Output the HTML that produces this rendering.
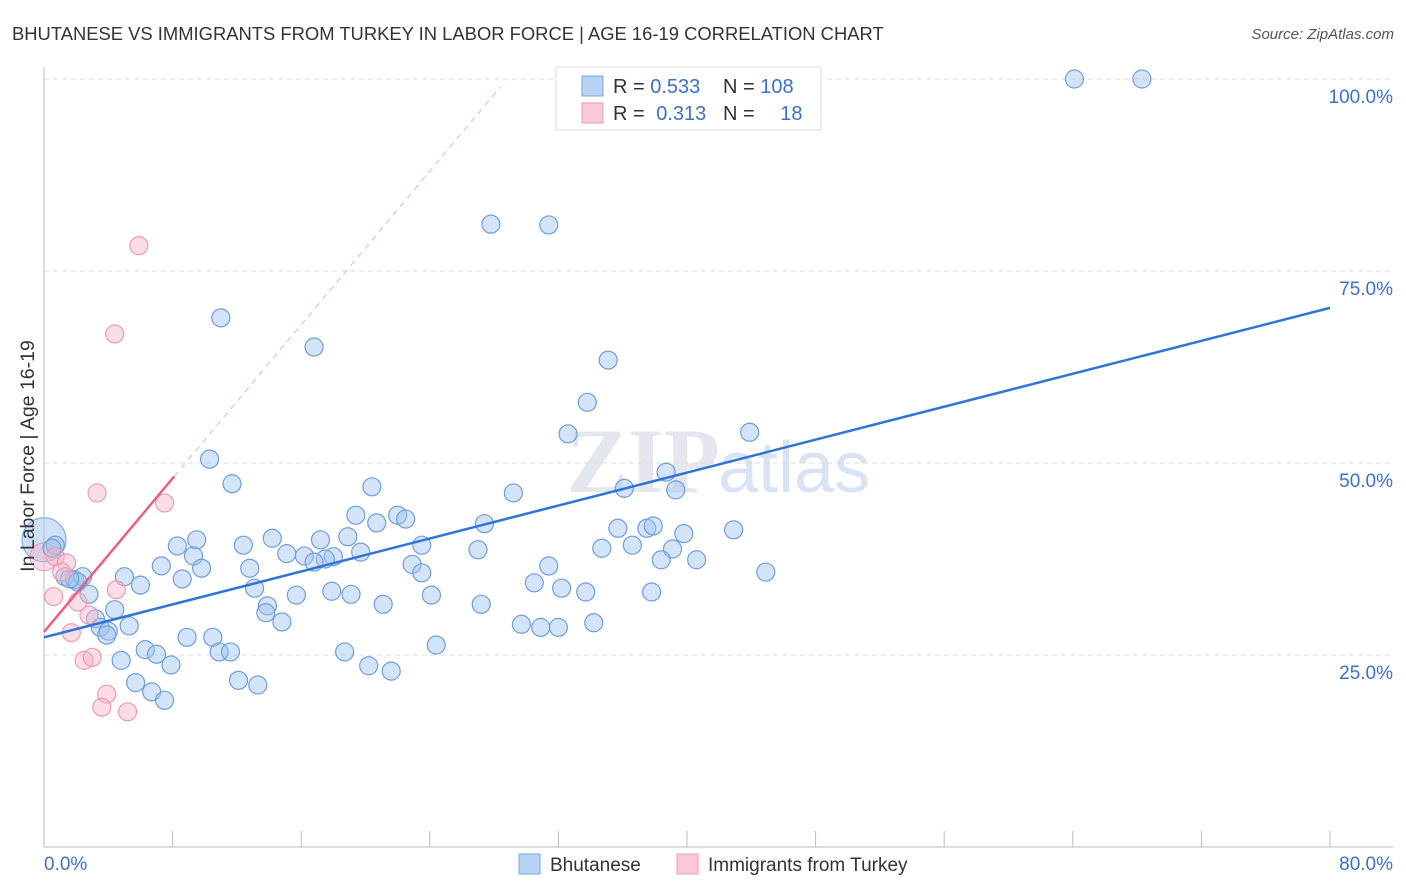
<!DOCTYPE html>
<html><head><meta charset="utf-8"><style>
body{margin:0;background:#fff;font-family:"Liberation Sans",sans-serif;}
#wrap{position:relative;width:1406px;height:892px;overflow:hidden;}
</style></head><body>
<div id="wrap">
<svg id="chart" width="1406" height="892" xmlns="http://www.w3.org/2000/svg">
<text x="12" y="40" font-size="18.4" fill="#333">BHUTANESE VS IMMIGRANTS FROM TURKEY IN LABOR FORCE | AGE 16-19 CORRELATION CHART</text>
<text x="1394" y="39" font-size="15" fill="#555" text-anchor="end" font-style="italic">Source: ZipAtlas.com</text>
<text x="720" y="492" font-size="92" fill="#e4e8ee" text-anchor="end" font-family="Liberation Serif" font-weight="bold">ZIP</text>
<text x="718" y="492" font-size="72" fill="#d8e4f4">atlas</text>
<g id="grid"></g><g id="axes"></g><g id="marks"></g>
<text transform="translate(34,456) rotate(-90)" font-size="19.5" fill="#333" text-anchor="middle">In Labor Force | Age 16-19</text>
<g>
<rect x="556" y="67" width="265" height="63" fill="#fff" stroke="#ddd"/>
<rect x="582" y="76" width="21" height="20" fill="#b8d3f5" stroke="#7aa7e0"/>
<rect x="582" y="103" width="21" height="20" fill="#fcc9d8" stroke="#ee9ab4"/>
<text x="613" y="93" font-size="20" fill="#333">R = <tspan fill="#3a72c9">0.533</tspan></text>
<text x="723" y="93" font-size="20" fill="#333">N = <tspan fill="#3a72c9">108</tspan></text>
<text x="613" y="120" font-size="20" fill="#333">R = <tspan fill="#3a72c9" dx="6">0.313</tspan></text>
<text x="723" y="120" font-size="20" fill="#333">N = <tspan fill="#3a72c9" dx="20">18</tspan></text>
</g>
<g>
<rect x="519" y="854" width="21" height="20" fill="#b8d3f5" stroke="#7aa7e0"/>
<text x="550" y="871" font-size="19" fill="#333">Bhutanese</text>
<rect x="677" y="854" width="21" height="20" fill="#fcc9d8" stroke="#ee9ab4"/>
<text x="708" y="871" font-size="19" fill="#333">Immigrants from Turkey</text>
</g>
</svg>
</div>
<script>
const blueX=[64.1,68.3,27.8,31.4,11.0,16.8,35.1,33.8,32.6,43.9,10.3,38.7,11.7,29.2,36.1,39.3,20.4,19.4,22.0,22.5,20.7,27.4,35.7,37.5,37.9,42.9,39.8,9.5,8.3,14.2,17.2,18.9,12.4,23.5,27.0,36.6,34.7,39.1,0.7,0.5,9.3,15.1,16.2,19.7,18.0,17.5,16.8,7.3,9.8,12.8,22.9,31.4,38.4,40.6,44.9,23.5,5.0,8.6,1.3,1.9,2.4,2.1,1.6,6.0,13.1,30.5,32.2,33.7,37.8,17.9,2.8,15.7,19.1,24.1,13.9,21.1,4.4,27.2,13.8,3.2,5.3,3.5,14.8,29.7,30.9,32.0,34.2,4.0,3.9,8.9,10.5,24.4,6.3,7.0,10.9,11.6,18.7,4.8,7.9,20.2,21.6,5.7,12.1,13.3,6.7,7.5];
const blueY=[100,100,81.1,81.0,68.9,65.1,63.4,57.9,53.8,54.0,50.5,48.8,47.3,46.1,46.7,46.5,46.9,43.2,43.2,42.7,42.2,42.1,41.5,41.5,41.8,41.3,40.8,40.0,39.2,40.2,40.0,40.4,39.3,39.3,38.7,39.3,38.9,38.8,39.3,38.9,37.9,38.2,37.9,38.4,37.8,37.5,37.1,36.6,36.3,36.3,36.8,36.6,37.4,37.4,35.8,35.7,35.2,34.9,35.2,34.8,35.2,34.5,34.9,34.1,33.7,34.4,33.7,33.2,33.2,33.3,32.9,32.8,32.9,32.8,31.4,31.6,30.9,31.6,30.5,29.7,28.8,28.6,29.3,29.0,28.6,28.6,29.2,28.1,27.6,27.3,27.3,26.3,25.7,25.1,25.4,25.4,25.4,24.3,23.7,23.6,22.9,21.4,21.7,21.1,20.2,19.1];
const pinkX=[5.9,4.4,3.3,7.5,0.7,1.4,1.1,0.6,4.5,2.8,2.1,1.7,2.5,3.0,3.9,3.6,5.2];
const pinkY=[78.3,66.8,46.1,44.8,37.8,37.0,35.8,32.6,33.5,30.2,31.9,27.9,24.3,24.7,19.9,18.2,17.6];
const blueTrend=[27.3,70.2];   // y at x=0 and x=80
const pinkTrend=[28.0,2.5];    // intercept, slope
const yTicks=[25,50,75,100];
const xTickLabels=["0.0%","80.0%"];
const NS="http://www.w3.org/2000/svg";
const sx=v=>44+v*1286/80, sy=v=>847-v*7.68;
function mk(tag,attrs,parent){const e=document.createElementNS(NS,tag);for(const k in attrs)e.setAttribute(k,attrs[k]);parent.appendChild(e);return e;}
const grid=document.getElementById('grid'),axes=document.getElementById('axes'),marks=document.getElementById('marks');
yTicks.forEach(t=>{
 const l=mk('line',{x1:44,x2:1393,y1:sy(t),y2:sy(t),stroke:'#ddd','stroke-dasharray':'5,4'},grid);
 
 
 const tx=mk('text',{x:1393,y:sy(t)+24,'font-size':19,fill:'#3a72c9','text-anchor':'end'},grid);
 tx.textContent=t.toFixed(1)+'%';
 
 
});
mk('line',{x1:44,x2:44,y1:67,y2:847,stroke:'#bbb'},axes);
mk('line',{x1:44,x2:1393,y1:847,y2:847,stroke:'#bbb'},axes);
for(let i=0;i<=10;i++){const t=mk('line',{x1:sx(i*8),x2:sx(i*8),y1:831,y2:847,stroke:'#bbb'},axes);
 
 }
const xl0=mk('text',{x:44,y:870,'font-size':19,fill:'#3a72c9'},axes);xl0.textContent=xTickLabels[0];


const xl1=mk('text',{x:1393,y:870,'font-size':19,fill:'#3a72c9','text-anchor':'end'},axes);xl1.textContent=xTickLabels[1];


const bb=mk('circle',{cx:sx(0),cy:sy(40.0),r:22,fill:'rgba(160,196,240,0.5)',stroke:'#7aa7e0'},marks);


const pb=mk('circle',{cx:sx(0),cy:sy(37.8),r:14,fill:'rgba(245,180,200,0.45)',stroke:'#ee9ab4'},marks);


blueX.forEach((x,i)=>{const c=mk('circle',{cx:sx(x),cy:sy(blueY[i]),r:9,fill:'rgba(160,196,240,0.45)',stroke:'#6f9edb','stroke-width':1.2},marks);
 
 });
pinkX.forEach((x,i)=>{const c=mk('circle',{cx:sx(x),cy:sy(pinkY[i]),r:9,fill:'rgba(245,180,200,0.45)',stroke:'#ee9ab4','stroke-width':1.2},marks);
 
 });
const bt=mk('line',{x1:sx(0),y1:sy(blueTrend[0]),x2:sx(80),y2:sy(blueTrend[1]),stroke:'#2f74d9','stroke-width':2.5},marks);


const pxEnd=8.1, pxDash=28.4;
const pt=mk('line',{x1:sx(0),y1:sy(pinkTrend[0]),x2:sx(pxEnd),y2:sy(pinkTrend[0]+pinkTrend[1]*pxEnd),stroke:'#e8608a','stroke-width':2.5},marks);


const pd=mk('line',{x1:sx(pxEnd),y1:sy(pinkTrend[0]+pinkTrend[1]*pxEnd),x2:sx(pxDash),y2:sy(pinkTrend[0]+pinkTrend[1]*pxDash),stroke:'#eeb0c4','stroke-width':1,'stroke-dasharray':'6,5'},marks);


</script>
</body></html>
